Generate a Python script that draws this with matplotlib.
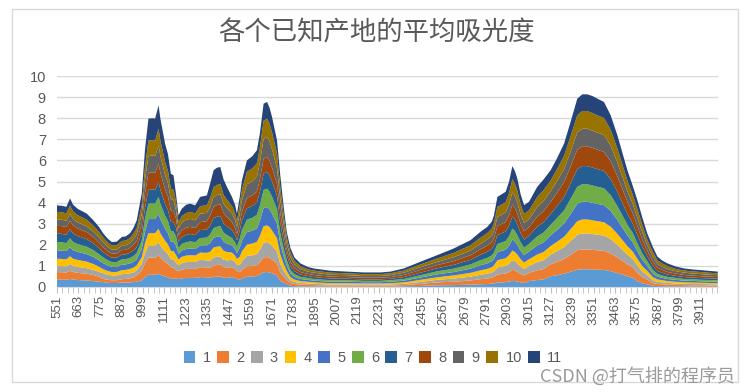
import matplotlib
matplotlib.use('Agg')
import matplotlib.pyplot as plt
from matplotlib.patches import Patch, Rectangle
from matplotlib.ticker import MultipleLocator, FixedLocator

plt.rcParams['font.family'] = ['Liberation Sans', 'Noto Sans CJK SC', 'DejaVu Sans']

## wavenumber positions
x = [551, 575, 600, 619, 635, 660, 706, 741, 770, 793,
     815, 837, 863, 889, 910, 932, 950, 967, 993, 1010,
     1028, 1050, 1063, 1081, 1090, 1115, 1130, 1145, 1159, 1172,
     1185, 1202, 1225, 1246, 1272, 1298, 1333, 1350, 1368, 1385,
     1403, 1420, 1438, 1464, 1480, 1490, 1505, 1516, 1542, 1570,
     1594, 1610, 1629, 1647, 1660, 1673, 1699, 1716, 1734, 1750,
     1769, 1790, 1821, 1860, 1890, 1978, 2065, 2152, 2239, 2291,
     2361, 2448, 2535, 2622, 2709, 2761, 2796, 2820, 2831, 2849,
     2892, 2910, 2927, 2940, 2953, 2970, 2988, 3014, 3057, 3090,
     3127, 3160, 3197, 3230, 3266, 3292, 3318, 3345, 3370, 3405,
     3440, 3475, 3500, 3527, 3555, 3579, 3605, 3631, 3660, 3684,
     3710, 3736, 3780, 3823, 3870, 3910, 3960, 3999]

## one absorbance series per origin (1..11), stacked bottom to top
s1 = [0.35, 0.35, 0.34, 0.38, 0.35, 0.33, 0.31, 0.28, 0.25, 0.23,
      0.20, 0.19, 0.19, 0.21, 0.21, 0.22, 0.23, 0.25, 0.32, 0.47,
      0.58, 0.58, 0.58, 0.63, 0.58, 0.50, 0.46, 0.39, 0.39, 0.40,
      0.37, 0.41, 0.43, 0.43, 0.43, 0.47, 0.46, 0.43, 0.48, 0.49,
      0.50, 0.44, 0.43, 0.47, 0.43, 0.38, 0.35, 0.41, 0.49, 0.50,
      0.52, 0.59, 0.70, 0.71, 0.69, 0.65, 0.56, 0.29, 0.21, 0.14,
      0.06, 0.04, 0.03, 0.03, 0.03, 0.02, 0.02, 0.02, 0.02, 0.02,
      0.03, 0.05, 0.08, 0.09, 0.11, 0.13, 0.14, 0.16, 0.17, 0.21,
      0.23, 0.26, 0.29, 0.28, 0.26, 0.22, 0.19, 0.28, 0.33, 0.36,
      0.51, 0.56, 0.63, 0.72, 0.82, 0.84, 0.84, 0.83, 0.82, 0.81,
      0.75, 0.66, 0.59, 0.51, 0.44, 0.29, 0.17, 0.13, 0.06, 0.04,
      0.04, 0.03, 0.03, 0.03, 0.02, 0.02, 0.02, 0.02]
s2 = [0.36, 0.35, 0.35, 0.39, 0.36, 0.34, 0.32, 0.29, 0.24, 0.15,
      0.14, 0.13, 0.13, 0.16, 0.17, 0.19, 0.22, 0.30, 0.45, 0.66,
      0.81, 0.81, 0.81, 0.87, 0.81, 0.69, 0.64, 0.54, 0.53, 0.40,
      0.38, 0.41, 0.43, 0.43, 0.43, 0.47, 0.46, 0.48, 0.54, 0.55,
      0.56, 0.50, 0.48, 0.47, 0.43, 0.38, 0.35, 0.41, 0.49, 0.50,
      0.52, 0.59, 0.70, 0.71, 0.69, 0.65, 0.56, 0.40, 0.28, 0.20,
      0.13, 0.10, 0.08, 0.07, 0.06, 0.05, 0.05, 0.05, 0.05, 0.05,
      0.06, 0.10, 0.14, 0.16, 0.20, 0.24, 0.26, 0.28, 0.31, 0.38,
      0.41, 0.45, 0.52, 0.50, 0.46, 0.40, 0.35, 0.39, 0.46, 0.49,
      0.57, 0.63, 0.70, 0.80, 0.92, 0.94, 0.94, 0.93, 0.92, 0.90,
      0.84, 0.74, 0.66, 0.57, 0.49, 0.40, 0.30, 0.23, 0.13, 0.10,
      0.09, 0.08, 0.07, 0.06, 0.06, 0.06, 0.05, 0.05]
s3 = [0.29, 0.29, 0.29, 0.32, 0.29, 0.28, 0.26, 0.24, 0.23, 0.27,
      0.25, 0.23, 0.23, 0.24, 0.24, 0.24, 0.24, 0.24, 0.32, 0.47,
      0.58, 0.58, 0.58, 0.63, 0.58, 0.50, 0.46, 0.39, 0.39, 0.35,
      0.28, 0.31, 0.32, 0.33, 0.32, 0.35, 0.34, 0.34, 0.38, 0.39,
      0.39, 0.35, 0.35, 0.35, 0.32, 0.29, 0.35, 0.41, 0.49, 0.50,
      0.52, 0.59, 0.70, 0.71, 0.69, 0.65, 0.56, 0.40, 0.28, 0.20,
      0.13, 0.10, 0.08, 0.07, 0.06, 0.05, 0.05, 0.05, 0.05, 0.05,
      0.06, 0.09, 0.12, 0.15, 0.18, 0.21, 0.23, 0.25, 0.27, 0.34,
      0.36, 0.40, 0.46, 0.44, 0.41, 0.35, 0.31, 0.33, 0.39, 0.42,
      0.46, 0.51, 0.56, 0.65, 0.74, 0.76, 0.76, 0.75, 0.74, 0.73,
      0.68, 0.60, 0.53, 0.46, 0.40, 0.34, 0.26, 0.20, 0.13, 0.10,
      0.09, 0.08, 0.07, 0.06, 0.06, 0.06, 0.06, 0.05]
s4 = [0.34, 0.34, 0.33, 0.37, 0.34, 0.33, 0.31, 0.28, 0.24, 0.19,
      0.17, 0.16, 0.16, 0.19, 0.19, 0.21, 0.23, 0.24, 0.32, 0.47,
      0.58, 0.58, 0.58, 0.63, 0.58, 0.50, 0.46, 0.39, 0.39, 0.37,
      0.27, 0.30, 0.31, 0.32, 0.31, 0.34, 0.36, 0.42, 0.47, 0.48,
      0.48, 0.43, 0.40, 0.34, 0.31, 0.28, 0.39, 0.46, 0.54, 0.56,
      0.58, 0.66, 0.78, 0.79, 0.77, 0.73, 0.63, 0.45, 0.32, 0.22,
      0.15, 0.11, 0.09, 0.08, 0.07, 0.06, 0.06, 0.05, 0.05, 0.06,
      0.07, 0.10, 0.12, 0.15, 0.18, 0.21, 0.23, 0.25, 0.27, 0.34,
      0.36, 0.40, 0.46, 0.44, 0.41, 0.35, 0.31, 0.31, 0.36, 0.39,
      0.40, 0.44, 0.49, 0.56, 0.64, 0.66, 0.66, 0.65, 0.64, 0.63,
      0.59, 0.52, 0.46, 0.40, 0.35, 0.31, 0.26, 0.20, 0.15, 0.12,
      0.10, 0.09, 0.08, 0.07, 0.07, 0.06, 0.06, 0.06]
s5 = [0.40, 0.40, 0.39, 0.43, 0.40, 0.38, 0.36, 0.33, 0.30, 0.29,
      0.26, 0.24, 0.24, 0.26, 0.26, 0.26, 0.27, 0.28, 0.37, 0.55,
      0.67, 0.67, 0.67, 0.72, 0.67, 0.57, 0.53, 0.45, 0.44, 0.44,
      0.27, 0.30, 0.31, 0.32, 0.31, 0.34, 0.36, 0.41, 0.46, 0.47,
      0.48, 0.43, 0.40, 0.34, 0.31, 0.28, 0.43, 0.50, 0.59, 0.61,
      0.64, 0.72, 0.86, 0.87, 0.84, 0.80, 0.69, 0.50, 0.36, 0.25,
      0.17, 0.13, 0.10, 0.09, 0.08, 0.07, 0.07, 0.06, 0.06, 0.07,
      0.08, 0.11, 0.14, 0.16, 0.20, 0.24, 0.26, 0.28, 0.31, 0.38,
      0.41, 0.45, 0.52, 0.50, 0.46, 0.40, 0.35, 0.37, 0.43, 0.46,
      0.51, 0.56, 0.63, 0.72, 0.82, 0.84, 0.84, 0.83, 0.82, 0.81,
      0.75, 0.66, 0.59, 0.51, 0.44, 0.37, 0.30, 0.23, 0.17, 0.13,
      0.11, 0.10, 0.09, 0.08, 0.08, 0.07, 0.07, 0.07]
s6 = [0.39, 0.39, 0.38, 0.42, 0.39, 0.37, 0.35, 0.32, 0.29, 0.27,
      0.25, 0.23, 0.23, 0.25, 0.25, 0.26, 0.28, 0.30, 0.41, 0.60,
      0.73, 0.74, 0.73, 0.79, 0.74, 0.62, 0.58, 0.49, 0.49, 0.44,
      0.28, 0.31, 0.32, 0.33, 0.32, 0.35, 0.36, 0.41, 0.46, 0.47,
      0.48, 0.43, 0.40, 0.35, 0.32, 0.29, 0.43, 0.50, 0.59, 0.61,
      0.64, 0.72, 0.86, 0.87, 0.84, 0.80, 0.69, 0.50, 0.36, 0.25,
      0.17, 0.13, 0.10, 0.09, 0.08, 0.07, 0.07, 0.06, 0.06, 0.07,
      0.08, 0.11, 0.14, 0.16, 0.20, 0.24, 0.26, 0.28, 0.31, 0.38,
      0.41, 0.45, 0.52, 0.50, 0.46, 0.40, 0.35, 0.36, 0.43, 0.46,
      0.50, 0.56, 0.62, 0.71, 0.81, 0.83, 0.83, 0.82, 0.81, 0.80,
      0.74, 0.65, 0.58, 0.50, 0.44, 0.37, 0.30, 0.23, 0.17, 0.13,
      0.11, 0.10, 0.09, 0.08, 0.08, 0.07, 0.07, 0.07]
s7 = [0.40, 0.40, 0.39, 0.43, 0.40, 0.38, 0.36, 0.33, 0.29, 0.25,
      0.23, 0.21, 0.21, 0.23, 0.23, 0.25, 0.27, 0.27, 0.36, 0.53,
      0.65, 0.66, 0.65, 0.71, 0.66, 0.56, 0.52, 0.44, 0.43, 0.44,
      0.30, 0.33, 0.35, 0.35, 0.34, 0.38, 0.38, 0.42, 0.47, 0.48,
      0.48, 0.43, 0.41, 0.38, 0.35, 0.31, 0.39, 0.46, 0.54, 0.56,
      0.58, 0.66, 0.78, 0.79, 0.77, 0.73, 0.63, 0.50, 0.36, 0.25,
      0.18, 0.14, 0.11, 0.09, 0.09, 0.08, 0.07, 0.07, 0.07, 0.07,
      0.09, 0.12, 0.15, 0.18, 0.22, 0.26, 0.29, 0.31, 0.34, 0.43,
      0.45, 0.50, 0.57, 0.55, 0.51, 0.44, 0.39, 0.39, 0.46, 0.49,
      0.52, 0.57, 0.64, 0.73, 0.84, 0.86, 0.86, 0.85, 0.84, 0.82,
      0.77, 0.68, 0.60, 0.52, 0.45, 0.40, 0.33, 0.25, 0.19, 0.14,
      0.13, 0.11, 0.10, 0.09, 0.08, 0.08, 0.08, 0.07]
s8 = [0.37, 0.37, 0.37, 0.40, 0.38, 0.36, 0.33, 0.30, 0.27, 0.23,
      0.20, 0.19, 0.19, 0.21, 0.21, 0.23, 0.27, 0.31, 0.45, 0.66,
      0.81, 0.81, 0.81, 0.87, 0.81, 0.69, 0.64, 0.54, 0.53, 0.42,
      0.29, 0.32, 0.34, 0.34, 0.33, 0.37, 0.40, 0.48, 0.54, 0.55,
      0.56, 0.50, 0.45, 0.37, 0.34, 0.30, 0.35, 0.41, 0.49, 0.50,
      0.52, 0.59, 0.70, 0.71, 0.69, 0.65, 0.56, 0.50, 0.36, 0.25,
      0.20, 0.15, 0.12, 0.10, 0.10, 0.09, 0.08, 0.08, 0.08, 0.08,
      0.10, 0.13, 0.15, 0.18, 0.22, 0.26, 0.29, 0.31, 0.34, 0.43,
      0.45, 0.50, 0.57, 0.55, 0.51, 0.44, 0.39, 0.41, 0.48, 0.52,
      0.57, 0.63, 0.70, 0.80, 0.92, 0.94, 0.94, 0.93, 0.92, 0.90,
      0.84, 0.74, 0.66, 0.57, 0.49, 0.42, 0.33, 0.25, 0.21, 0.16,
      0.14, 0.12, 0.11, 0.10, 0.09, 0.09, 0.08, 0.08]
s9 = [0.30, 0.30, 0.30, 0.33, 0.31, 0.29, 0.27, 0.25, 0.24, 0.23,
      0.20, 0.19, 0.19, 0.21, 0.21, 0.22, 0.26, 0.31, 0.44, 0.65,
      0.80, 0.80, 0.80, 0.86, 0.80, 0.68, 0.63, 0.54, 0.53, 0.37,
      0.33, 0.36, 0.37, 0.38, 0.37, 0.41, 0.39, 0.41, 0.46, 0.47,
      0.48, 0.43, 0.42, 0.41, 0.37, 0.33, 0.46, 0.55, 0.65, 0.67,
      0.70, 0.79, 0.94, 0.95, 0.92, 0.87, 0.75, 0.60, 0.43, 0.30,
      0.22, 0.17, 0.14, 0.11, 0.11, 0.09, 0.09, 0.08, 0.08, 0.09,
      0.11, 0.13, 0.15, 0.18, 0.22, 0.26, 0.29, 0.31, 0.34, 0.43,
      0.45, 0.50, 0.57, 0.55, 0.51, 0.44, 0.39, 0.38, 0.45, 0.48,
      0.50, 0.56, 0.62, 0.71, 0.81, 0.83, 0.83, 0.82, 0.81, 0.80,
      0.74, 0.65, 0.58, 0.50, 0.44, 0.39, 0.33, 0.25, 0.23, 0.17,
      0.15, 0.14, 0.11, 0.11, 0.10, 0.10, 0.09, 0.09]
s10 = [0.36, 0.35, 0.35, 0.39, 0.36, 0.34, 0.32, 0.29, 0.26, 0.23,
       0.22, 0.20, 0.21, 0.22, 0.23, 0.24, 0.27, 0.29, 0.41, 0.60,
       0.73, 0.73, 0.73, 0.79, 0.73, 0.62, 0.58, 0.49, 0.49, 0.40,
       0.29, 0.31, 0.32, 0.33, 0.32, 0.35, 0.37, 0.42, 0.47, 0.48,
       0.48, 0.43, 0.40, 0.35, 0.32, 0.29, 0.43, 0.50, 0.59, 0.61,
       0.64, 0.72, 0.86, 0.87, 0.84, 0.80, 0.69, 0.58, 0.42, 0.28,
       0.22, 0.17, 0.14, 0.11, 0.10, 0.10, 0.09, 0.09, 0.09, 0.09,
       0.10, 0.13, 0.16, 0.21, 0.25, 0.29, 0.30, 0.34, 0.37, 0.47,
       0.49, 0.55, 0.63, 0.60, 0.57, 0.48, 0.43, 0.41, 0.48, 0.52,
       0.51, 0.56, 0.63, 0.72, 0.82, 0.84, 0.84, 0.83, 0.82, 0.81,
       0.75, 0.66, 0.59, 0.51, 0.44, 0.42, 0.36, 0.28, 0.23, 0.17,
       0.15, 0.14, 0.11, 0.10, 0.10, 0.10, 0.09, 0.09]
s11 = [0.31, 0.31, 0.31, 0.34, 0.32, 0.30, 0.29, 0.25, 0.24, 0.19,
       0.18, 0.16, 0.17, 0.19, 0.20, 0.23, 0.26, 0.37, 0.57, 0.84,
       1.04, 1.04, 1.04, 1.11, 1.04, 0.86, 0.80, 0.71, 0.68, 0.37,
       0.34, 0.35, 0.40, 0.39, 0.39, 0.44, 0.46, 0.68, 0.80, 0.82,
       0.80, 0.73, 0.60, 0.44, 0.40, 0.35, 0.37, 0.45, 0.54, 0.58,
       0.62, 0.67, 0.81, 0.79, 0.76, 0.73, 0.63, 0.58, 0.41, 0.26,
       0.22, 0.16, 0.13, 0.11, 0.10, 0.09, 0.08, 0.08, 0.08, 0.08,
       0.10, 0.13, 0.16, 0.21, 0.24, 0.28, 0.30, 0.33, 0.37, 0.48,
       0.49, 0.54, 0.62, 0.59, 0.58, 0.48, 0.42, 0.41, 0.48, 0.51,
       0.49, 0.52, 0.58, 0.68, 0.79, 0.79, 0.79, 0.81, 0.79, 0.76,
       0.69, 0.63, 0.56, 0.49, 0.42, 0.41, 0.36, 0.29, 0.23, 0.18,
       0.14, 0.13, 0.11, 0.10, 0.09, 0.09, 0.09, 0.08]

series = [s1, s2, s3, s4, s5, s6, s7, s8, s9, s10, s11]
names = ['1', '2', '3', '4', '5', '6', '7', '8', '9', '10', '11']
colors = ['#5B9BD5', '#ED7D31', '#A5A5A5', '#FFC000', '#4472C4', '#70AD47',
          '#255E91', '#9E480E', '#636363', '#997300', '#264478']

xlabels = list(range(551, 3912, 112))
title = '各个已知产地的平均吸光度'
watermark = 'CSDN @打气排的程序员'

txt = '#595959'
grid = '#d9d9d9'

fig = plt.figure(figsize=(7.52, 3.92), dpi=100)

## chart area border
fig.patches.append(Rectangle((12/752, 10/392), 726/752, 373/392,
                             transform=fig.transFigure, fill=False,
                             edgecolor=grid, linewidth=1.0))

ax = fig.add_axes([57/752, 105/392, 661/752, 211/392])
ax.stackplot(x, *series, colors=colors, linewidth=0)

ax.set_xlim(551, 4000)
ax.set_ylim(0, 10)
ax.yaxis.set_major_locator(MultipleLocator(1))
ax.yaxis.grid(True, color=grid, linewidth=1.0)
ax.set_axisbelow(True)

ax.xaxis.set_major_locator(FixedLocator(xlabels))
ax.set_xticklabels([str(v) for v in xlabels], rotation=90)
ax.xaxis.set_minor_locator(MultipleLocator(28, offset=551 % 28))

for sp in ['top', 'right', 'left']:
    ax.spines[sp].set_visible(False)
ax.spines['bottom'].set_color(grid)

ax.tick_params(axis='x', which='both', direction='out', length=4, color='#bfbfbf',
               labelsize=9.5, labelcolor=txt, pad=2)
ax.tick_params(axis='y', length=0, labelsize=10.5, labelcolor=txt, pad=8)

fig.text(376/752, 1 - 33/392, title, ha='center', va='center', fontsize=19,
         color=txt, family=['Noto Sans CJK SC', 'DejaVu Sans'])

handles = [Patch(facecolor=c, edgecolor='none') for c in colors]
fig.legend(handles, names, loc='center', bbox_to_anchor=(373/752, 1 - 358/392),
           ncol=11, frameon=False, fontsize=10.5, labelcolor=txt,
           handlelength=0.8, handleheight=0.8, handletextpad=0.5,
           columnspacing=0.45, borderpad=0.1)

fig.text(735/752, 1 - 376/392, watermark, ha='right', va='center', fontsize=13,
         color='#9a9a9a', family=['Noto Sans CJK SC', 'DejaVu Sans'])

plt.savefig('out.png', dpi=100)
plt.close()
